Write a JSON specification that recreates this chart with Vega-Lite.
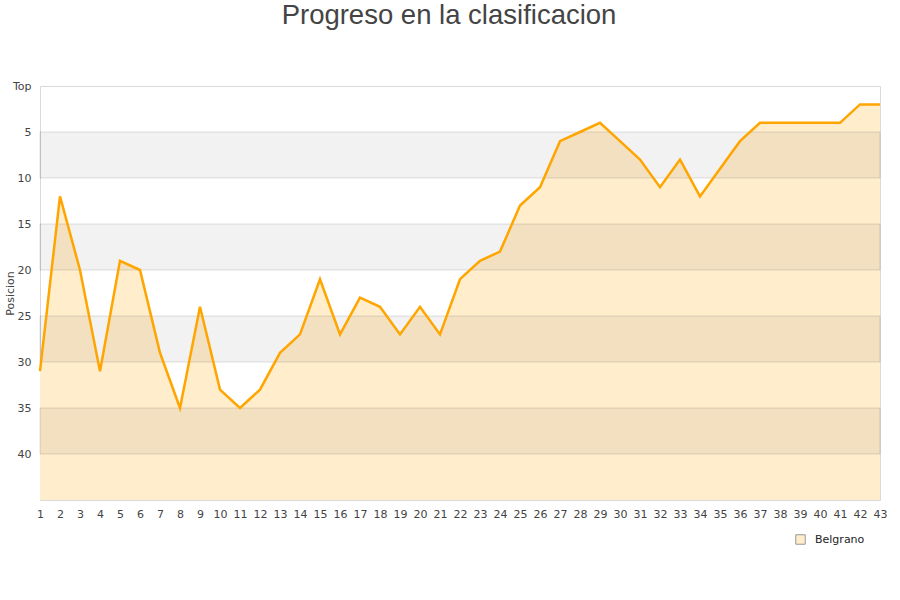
{
  "$schema": "https://vega.github.io/schema/vega-lite/v6.json",
  "autosize": "none",
  "width": 840,
  "height": 414,
  "padding": {"left": 40, "top": 86, "right": 20, "bottom": 100},
  "background": "white",
  "title": {
    "text": "Progreso en la clasificacion",
    "font": "Liberation Sans",
    "fontSize": 27.5,
    "fontWeight": "normal",
    "color": "#444444",
    "anchor": "middle",
    "dx": -11,
    "dy": -47
  },
  "config": {
    "view": {"stroke": "#d9d9d9", "strokeWidth": 1},
    "axis": {"labelFont": "DejaVu Sans", "labelFontSize": 11, "labelColor": "#444444", "titleFont": "DejaVu Sans"},
    "axisX": {
      "title": null,
      "tickCount": 43,
      "grid": false,
      "domain": false,
      "ticks": false,
      "labelPadding": 8,
      "labelOverlap": false,
      "labelFlush": false
    }
  },
  "datasets": {
    "bandas": [
      {"desde": 5, "hasta": 10},
      {"desde": 15, "hasta": 20},
      {"desde": 25, "hasta": 30},
      {"desde": 35, "hasta": 40}
    ],
    "progreso": [
      {"jornada": 1, "posicion": 31, "equipo": "Belgrano"},
      {"jornada": 2, "posicion": 12, "equipo": "Belgrano"},
      {"jornada": 3, "posicion": 20, "equipo": "Belgrano"},
      {"jornada": 4, "posicion": 31, "equipo": "Belgrano"},
      {"jornada": 5, "posicion": 19, "equipo": "Belgrano"},
      {"jornada": 6, "posicion": 20, "equipo": "Belgrano"},
      {"jornada": 7, "posicion": 29, "equipo": "Belgrano"},
      {"jornada": 8, "posicion": 35, "equipo": "Belgrano"},
      {"jornada": 9, "posicion": 24, "equipo": "Belgrano"},
      {"jornada": 10, "posicion": 33, "equipo": "Belgrano"},
      {"jornada": 11, "posicion": 35, "equipo": "Belgrano"},
      {"jornada": 12, "posicion": 33, "equipo": "Belgrano"},
      {"jornada": 13, "posicion": 29, "equipo": "Belgrano"},
      {"jornada": 14, "posicion": 27, "equipo": "Belgrano"},
      {"jornada": 15, "posicion": 21, "equipo": "Belgrano"},
      {"jornada": 16, "posicion": 27, "equipo": "Belgrano"},
      {"jornada": 17, "posicion": 23, "equipo": "Belgrano"},
      {"jornada": 18, "posicion": 24, "equipo": "Belgrano"},
      {"jornada": 19, "posicion": 27, "equipo": "Belgrano"},
      {"jornada": 20, "posicion": 24, "equipo": "Belgrano"},
      {"jornada": 21, "posicion": 27, "equipo": "Belgrano"},
      {"jornada": 22, "posicion": 21, "equipo": "Belgrano"},
      {"jornada": 23, "posicion": 19, "equipo": "Belgrano"},
      {"jornada": 24, "posicion": 18, "equipo": "Belgrano"},
      {"jornada": 25, "posicion": 13, "equipo": "Belgrano"},
      {"jornada": 26, "posicion": 11, "equipo": "Belgrano"},
      {"jornada": 27, "posicion": 6, "equipo": "Belgrano"},
      {"jornada": 28, "posicion": 5, "equipo": "Belgrano"},
      {"jornada": 29, "posicion": 4, "equipo": "Belgrano"},
      {"jornada": 30, "posicion": 6, "equipo": "Belgrano"},
      {"jornada": 31, "posicion": 8, "equipo": "Belgrano"},
      {"jornada": 32, "posicion": 11, "equipo": "Belgrano"},
      {"jornada": 33, "posicion": 8, "equipo": "Belgrano"},
      {"jornada": 34, "posicion": 12, "equipo": "Belgrano"},
      {"jornada": 35, "posicion": 9, "equipo": "Belgrano"},
      {"jornada": 36, "posicion": 6, "equipo": "Belgrano"},
      {"jornada": 37, "posicion": 4, "equipo": "Belgrano"},
      {"jornada": 38, "posicion": 4, "equipo": "Belgrano"},
      {"jornada": 39, "posicion": 4, "equipo": "Belgrano"},
      {"jornada": 40, "posicion": 4, "equipo": "Belgrano"},
      {"jornada": 41, "posicion": 4, "equipo": "Belgrano"},
      {"jornada": 42, "posicion": 2, "equipo": "Belgrano"},
      {"jornada": 43, "posicion": 2, "equipo": "Belgrano"}
    ]
  },
  "layer": [
    {
      "data": {"name": "progreso"},
      "mark": {"type": "area", "fillOpacity": 1},
      "encoding": {
        "x": {
          "field": "jornada",
          "type": "quantitative",
          "scale": {"domain": [1, 43], "nice": false, "zero": false},
          "axis": {"tickCount": 43, "labelOverlap": false, "values": [1,2,3,4,5,6,7,8,9,10,11,12,13,14,15,16,17,18,19,20,21,22,23,24,25,26,27,28,29,30,31,32,33,34,35,36,37,38,39,40,41,42,43]}
        },
        "y": {
          "field": "posicion",
          "type": "quantitative",
          "scale": {"domain": [0, 45], "reverse": true, "nice": false, "zero": false},
          "axis": {
            "title": "Posicion",
            "titleFontSize": 11,
            "titleFontWeight": "normal",
            "titleColor": "#444444",
            "titleX": -30,
            "titleY": 207,
            "titleAngle": -90,
            "titleAlign": "center",
            "titleBaseline": "middle",
            "values": [0, 5, 10, 15, 20, 25, 30, 35, 40],
            "labelExpr": "datum.value == 0 ? 'Top' : datum.label",
            "grid": false,
            "domain": false,
            "ticks": false,
            "labelPadding": 9,
            "labelBaseline": "middle"
          }
        },
        "y2": {"datum": 45},
        "color": {
          "field": "equipo",
          "type": "nominal",
          "scale": {"range": ["#ffedcc"]},
          "legend": {
            "title": null,
            "orient": "none",
            "legendX": 755,
            "legendY": 448,
            "padding": 0,
            "symbolType": "square",
            "symbolSize": 90,
            "symbolStrokeColor": "#999999",
            "symbolStrokeWidth": 1,
            "labelFont": "DejaVu Sans",
            "labelFontSize": 11,
            "labelColor": "#222222",
            "labelOffset": 9
          }
        }
      }
    },
    {
      "data": {"name": "bandas"},
      "mark": {"type": "rect", "fill": "#000000", "fillOpacity": 0.05, "stroke": "#000000", "strokeOpacity": 0.12, "strokeWidth": 1},
      "encoding": {
        "x": {"datum": 1, "type": "quantitative", "axis": {"tickCount": 43, "labelOverlap": false, "values": [1,2,3,4,5,6,7,8,9,10,11,12,13,14,15,16,17,18,19,20,21,22,23,24,25,26,27,28,29,30,31,32,33,34,35,36,37,38,39,40,41,42,43]}},
        "x2": {"datum": 43},
        "y": {"field": "desde", "type": "quantitative"},
        "y2": {"field": "hasta"}
      }
    },
    {
      "data": {"name": "progreso"},
      "mark": {"type": "line", "stroke": "#ffa500", "strokeWidth": 2.5},
      "encoding": {
        "x": {"field": "jornada", "type": "quantitative", "axis": {"tickCount": 43, "labelOverlap": false, "values": [1,2,3,4,5,6,7,8,9,10,11,12,13,14,15,16,17,18,19,20,21,22,23,24,25,26,27,28,29,30,31,32,33,34,35,36,37,38,39,40,41,42,43]}},
        "y": {"field": "posicion", "type": "quantitative"}
      }
    }
  ]
}
